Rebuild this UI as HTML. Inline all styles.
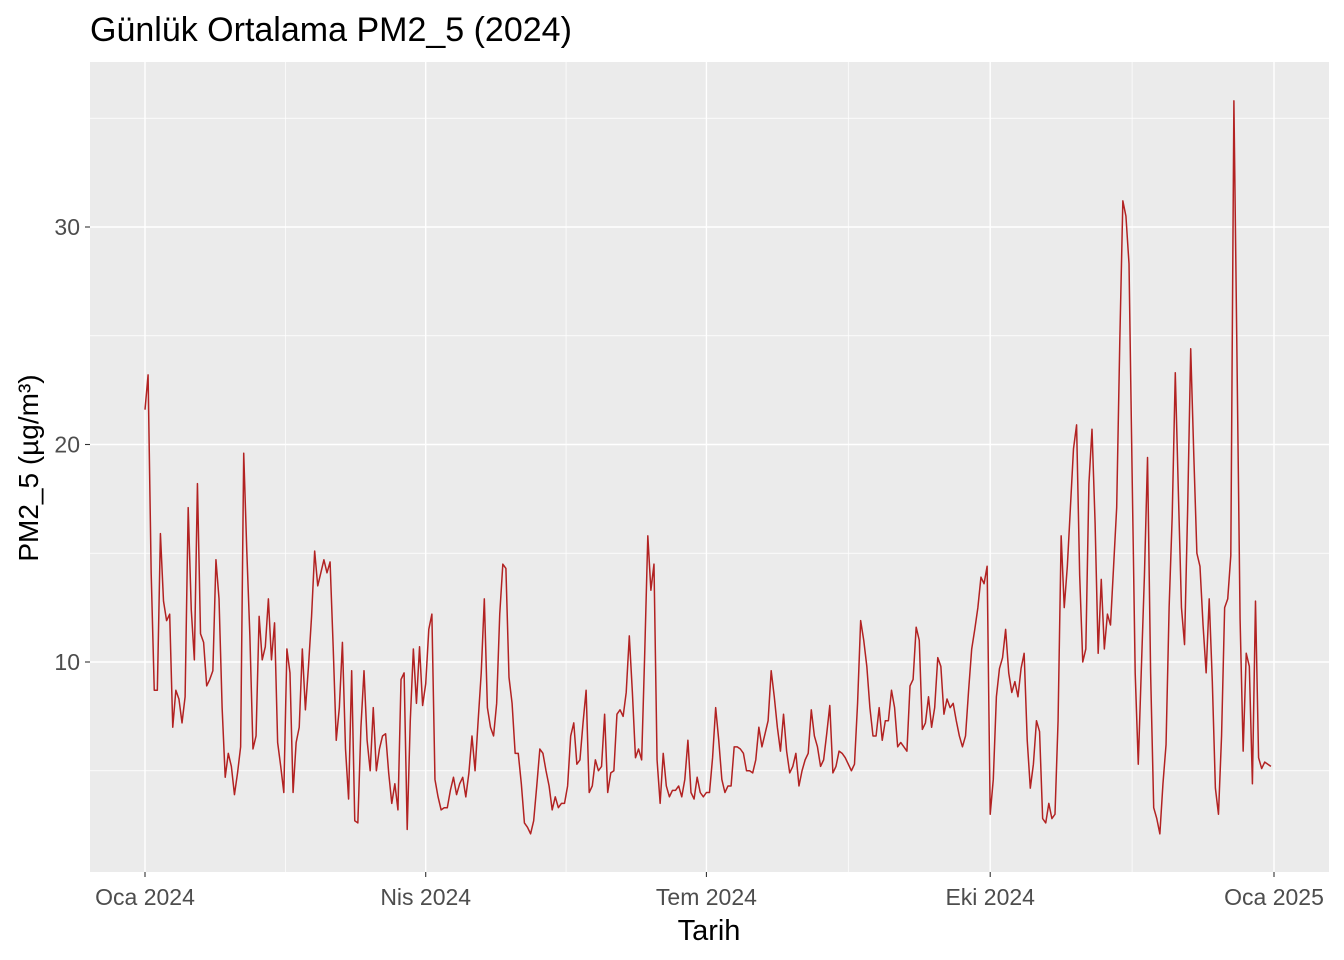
<!DOCTYPE html>
<html><head><meta charset="utf-8"><style>
html,body{margin:0;padding:0;background:#fff;}
svg{display:block;font-family:"Liberation Sans",sans-serif;}
</style></head><body>
<svg id="chart" width="1344" height="960" viewBox="0 0 1344 960">
<text x="90" y="41" font-size="34" fill="#000">Günlük Ortalama PM2_5 (2024)</text>
<rect x="90" y="62" width="1239" height="810" fill="#ebebeb"/>
<g id="grid"></g>
<g id="axes"></g>
<path id="line" fill="none" stroke="#b22222" stroke-width="1.5" stroke-linejoin="round"/>
<text x="709" y="940" font-size="29" text-anchor="middle" fill="#000">Tarih</text>
<text transform="translate(38,468) rotate(-90)" font-size="28" text-anchor="middle" fill="#000">PM2_5 (µg/m³)</text>
</svg>
<script>
const startDate = "2024-01-01";
const values = [
21.6,23.2,14.1,8.7,8.7,15.9,12.8,11.9,12.2,7,8.7,8.3,7.2,8.4,17.1,12.4,10.1,18.2,11.3,10.9,
8.9,9.2,9.6,14.7,12.9,7.9,4.7,5.8,5.2,3.9,4.9,6.1,19.6,15.1,11.2,6,6.6,12.1,10.1,10.7,
12.9,10.1,11.8,6.3,5.2,4,10.6,9.5,4,6.3,7,10.6,7.8,9.8,12.1,15.1,13.5,14.1,14.7,14.1,
14.6,10.7,6.4,7.9,10.9,6,3.7,9.6,2.7,2.6,7,9.6,6.4,5,7.9,5,6,6.6,6.7,4.9,
3.5,4.4,3.2,9.2,9.5,2.3,7.3,10.6,8.1,10.7,8,9,11.5,12.2,4.6,3.8,3.2,3.3,3.3,4.1,
4.7,3.9,4.4,4.7,3.8,4.9,6.6,5,7.3,9.5,12.9,7.9,7,6.6,8.1,12.2,14.5,14.3,9.3,8.1,
5.8,5.8,4.4,2.6,2.4,2.1,2.7,4.3,6,5.8,5,4.3,3.2,3.8,3.3,3.5,3.5,4.3,6.6,7.2,
5.3,5.5,7.2,8.7,4,4.3,5.5,5,5.2,7.6,4,4.9,5,7.6,7.8,7.5,8.6,11.2,8.6,5.6,
6,5.5,10.4,15.8,13.3,14.5,5.5,3.5,5.8,4.3,3.8,4.1,4.1,4.3,3.8,4.6,6.4,4,3.7,4.7,
4,3.8,4,4,5.6,7.9,6.4,4.6,4,4.3,4.3,6.1,6.1,6,5.8,5,5,4.9,5.5,7,
6.1,6.7,7.3,9.6,8.4,7,5.9,7.6,5.9,4.9,5.2,5.8,4.3,5,5.5,5.8,7.8,6.6,6.1,5.2,
5.5,6.7,8,4.9,5.2,5.9,5.8,5.6,5.3,5,5.3,8.1,11.9,11,9.8,7.9,6.6,6.6,7.9,6.4,
7.3,7.3,8.7,7.9,6.1,6.3,6.1,5.9,8.9,9.2,11.6,11,6.9,7.2,8.4,7,7.9,10.2,9.8,7.6,
8.3,7.9,8.1,7.3,6.6,6.1,6.6,8.7,10.6,11.5,12.5,13.9,13.6,14.4,3,4.6,8.4,9.7,10.2,11.5,
9.5,8.6,9.1,8.4,9.7,10.4,6.4,4.2,5.3,7.3,6.8,2.8,2.6,3.5,2.8,3,7.3,15.8,12.5,14.4,
17.1,19.8,20.9,14,10,10.6,18.2,20.7,16.4,10.4,13.8,10.6,12.2,11.7,14.4,17.1,24.7,31.2,30.5,28.3,
18.7,9.5,5.3,9.7,14,19.4,9.5,3.3,2.8,2.1,4.4,6.2,12.5,16.7,23.3,17.8,12.5,10.8,17,24.4,
19.5,15,14.4,11.7,9.5,12.9,9.1,4.2,3,6.6,12.5,12.9,14.9,35.8,24,12,5.9,10.4,9.8,4.4,
12.8,5.6,5.1,5.4,5.3,5.2
];
const xTickLabels = ["Oca 2024","Nis 2024","Tem 2024","Eki 2024","Oca 2025"];
const xTickDays = [0,91,182,274,366];
const yTickValues = [10,20,30];

const NS="http://www.w3.org/2000/svg";
const X0=145, PXD=(1274-145)/366;
function xScale(d){return X0+d*PXD;}
function yScale(v){return 662-(v-10)*21.75;}
const grid=document.getElementById('grid');
const axes=document.getElementById('axes');
function mk(tag,attrs,parent){const e=document.createElementNS(NS,tag);for(const k in attrs)e.setAttribute(k,attrs[k]);parent.appendChild(e);return e;}
for(let i=0;i<yTickValues.length+1;i++){
  const v=yTickValues[0]-5+i*10;
  const el=mk('line',{x1:90,x2:1329,y1:yScale(v),y2:yScale(v),stroke:'#fff','stroke-width':0.7},grid);
  
  
}
for(let i=0;i<xTickDays.length-1;i++){
  const d=(xTickDays[i]+xTickDays[i+1])/2;
  const el=mk('line',{x1:xScale(d),x2:xScale(d),y1:62,y2:872,stroke:'#fff','stroke-width':0.7},grid);
  
  
}
yTickValues.forEach(v=>{
  const y=yScale(v);
  const g=mk('line',{x1:90,x2:1329,y1:y,y2:y,stroke:'#fff','stroke-width':1.4},grid);
  
  
  const t=mk('line',{x1:85,x2:90,y1:y,y2:y,stroke:'#333','stroke-width':1.1},axes);
  
  
  const l=mk('text',{x:80,y:y+8,'font-size':23,'text-anchor':'end',fill:'#4d4d4d'},axes);
  l.textContent=v;
  
  
});
xTickDays.forEach((d,i)=>{
  const x=xScale(d);
  const g=mk('line',{x1:x,x2:x,y1:62,y2:872,stroke:'#fff','stroke-width':1.4},grid);
  
  
  const t=mk('line',{x1:x,x2:x,y1:872,y2:877,stroke:'#333','stroke-width':1.1},axes);
  
  
  const l=mk('text',{x:x,y:905,'font-size':23,'text-anchor':'middle',fill:'#4d4d4d'},axes);
  l.textContent=xTickLabels[i];
  
  
});
let p='';
values.forEach((v,i)=>{p+=(i?'L':'M')+xScale(i).toFixed(2)+','+yScale(v).toFixed(2);});
document.getElementById('line').setAttribute('d',p);
</script>
</body></html>
